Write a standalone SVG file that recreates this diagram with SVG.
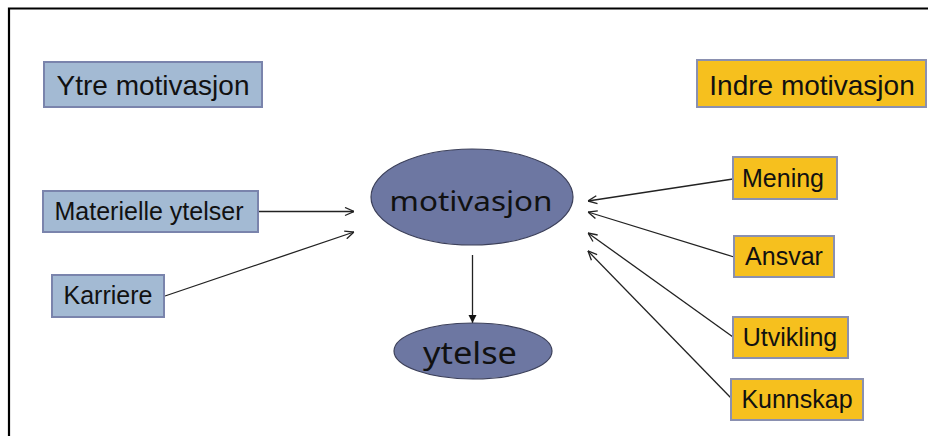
<svg xmlns="http://www.w3.org/2000/svg" width="928" height="436" viewBox="0 0 928 436">
<style>
.lbl{font-family:"Liberation Sans",Arial,sans-serif;fill:#111;text-anchor:middle}
.blue{fill:#a3bad3;stroke:#7a84ac;stroke-width:2}
.gold{fill:#f6c01e;stroke:#8a90b0;stroke-width:2}
.ell{fill:#6d77a2;stroke:#3c405a;stroke-width:1.2}
.hand{font-family:"Comic Sans MS","Noto Sans",sans-serif;fill:#111;text-anchor:middle}
.con{stroke:#222;stroke-width:1.3;fill:none}
</style>
<defs>
<marker id="open" viewBox="0 0 10 10" refX="10" refY="5" markerWidth="10" markerHeight="10" markerUnits="userSpaceOnUse" orient="auto">
<path d="M1,1 L10,5 L1,9" fill="none" stroke="#222" stroke-width="1.3"/>
</marker>
<marker id="solid" viewBox="0 0 10 10" refX="10" refY="5" markerWidth="8" markerHeight="9" markerUnits="userSpaceOnUse" orient="auto">
<path d="M0,0 L10,5 L0,10 Z" fill="#111"/>
</marker>
</defs>
<rect width="928" height="436" fill="#fff"/>
<path d="M9,436 V8.5 H928" fill="none" stroke="#000" stroke-width="2.2"/>

<g id="connectors">
<line class="con" x1="258" y1="211.5" x2="354" y2="211.5" marker-end="url(#open)"/>
<line class="con" x1="165" y1="296" x2="354" y2="232" marker-end="url(#open)"/>
<line class="con" x1="733" y1="179" x2="588" y2="201" marker-end="url(#open)"/>
<line class="con" x1="734" y1="257" x2="588" y2="212" marker-end="url(#open)"/>
<line class="con" x1="733" y1="337" x2="588" y2="233" marker-end="url(#open)"/>
<line class="con" x1="731" y1="398" x2="588" y2="251" marker-end="url(#open)"/>
<line class="con" x1="472.5" y1="255" x2="472.5" y2="323" marker-end="url(#solid)"/>
</g>

<g id="ytre">
<rect class="blue" x="44" y="62" width="218" height="45"/>
<text class="lbl" x="153" y="95" font-size="28">Ytre motivasjon</text>
</g>
<g id="indre">
<rect class="gold" x="697" y="60" width="229" height="47"/>
<text class="lbl" x="812" y="95" font-size="28">Indre motivasjon</text>
</g>
<g id="materielle">
<rect class="blue" x="43" y="191" width="215" height="41"/>
<text class="lbl" x="149" y="219.5" font-size="25">Materielle ytelser</text>
</g>
<g id="karriere">
<rect class="blue" x="52" y="275" width="112" height="42"/>
<text class="lbl" x="108" y="304" font-size="25">Karriere</text>
</g>
<g id="motivasjon">
<ellipse class="ell" cx="472" cy="197" rx="101" ry="48"/>
<text class="hand" x="471" y="211" font-size="28" textLength="163" lengthAdjust="spacingAndGlyphs">motivasjon</text>
</g>
<g id="ytelse">
<ellipse class="ell" cx="473" cy="351" rx="79" ry="28"/>
<text class="hand" x="470" y="364" font-size="31" textLength="94" lengthAdjust="spacingAndGlyphs">ytelse</text>
</g>
<g id="mening">
<rect class="gold" x="733" y="157" width="104" height="42"/>
<text class="lbl" x="783" y="187" font-size="25">Mening</text>
</g>
<g id="ansvar">
<rect class="gold" x="734" y="236" width="100" height="41"/>
<text class="lbl" x="784" y="265" font-size="25">Ansvar</text>
</g>
<g id="utvikling">
<rect class="gold" x="733" y="317" width="115" height="41"/>
<text class="lbl" x="790" y="346" font-size="25">Utvikling</text>
</g>
<g id="kunnskap">
<rect class="gold" x="731" y="379" width="132" height="41"/>
<text class="lbl" x="797" y="408" font-size="25">Kunnskap</text>
</g>
</svg>
